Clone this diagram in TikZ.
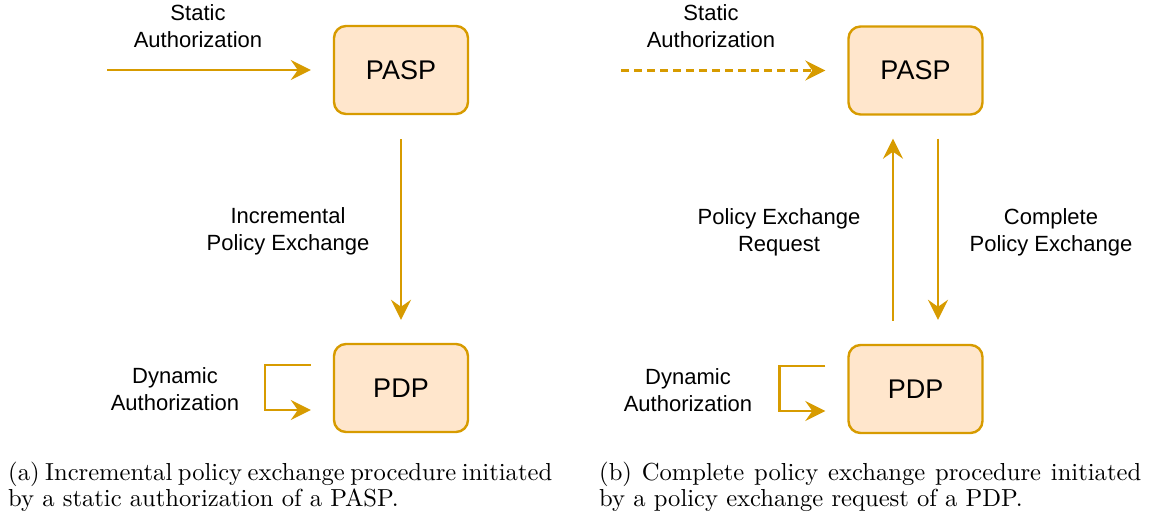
\documentclass[tikz,border=0pt]{standalone}
\usepackage{fontspec}
\newfontfamily\labfont{Liberation Sans}
\newfontfamily\capfont{lmroman10-regular.otf}
\usetikzlibrary{arrows.meta}
\definecolor{boxfill}{HTML}{FFE6CC}
\definecolor{boxline}{HTML}{D79B00}
\begin{document}
\begin{tikzpicture}[x=1pt,y=-1pt,
  procbox/.style={draw=boxline, fill=boxfill, line width=2.4pt, rounded corners=12pt,
    minimum width=134pt, minimum height=88pt, inner sep=0pt,
    font=\labfont\fontsize{27}{30}\selectfont},
  lbl/.style={align=center, inner sep=0pt, font=\labfont\fontsize{22}{27}\selectfont},
  conn/.style={draw=boxline, line width=2.6pt, -{Stealth[length=20pt, width=20pt, inset=7pt]}},
  capt/.style={anchor=north west, inner sep=0pt, text width=544pt, align=left,
    font=\capfont\fontsize{24.6}{26}\selectfont}
]
\useasboundingbox (0,0) rectangle (1150,517);

% (a)
\node[procbox] (paspA) at (401,70) {PASP};
\node[procbox] (pdpA) at (401,388) {PDP};
\coordinate (startA) at (107,70);
\draw[conn] (startA) -- ([shift={(-22,0)}]paspA.west);
\node[lbl] (statA) at (198,26) {Static\\Authorization};
\draw[conn] ([shift={(0,24)}]paspA.south) -- ([shift={(0,-23)}]pdpA.north);
\node[lbl] (incA) at (288,231) {Incremental\\Policy Exchange};
\draw[conn] ([shift={(-22,-23)}]pdpA.west) -| ([shift={(-68,22)}]pdpA.west) -- ([shift={(-22,22)}]pdpA.west);
\node[lbl] (dynA) at (175,389) {Dynamic\\Authorization};
\node[capt] (captA) at (8,462) {\noindent{\spaceskip=5pt plus 8pt minus 3pt\hbox to 544pt{(a) Incremental policy exchange procedure initiated}}\\by a static authorization of a PASP.};

% (b)
\node[procbox] (paspB) at (915.5,70.5) {PASP};
\node[procbox] (pdpB) at (915.5,389) {PDP};
\coordinate (startB) at (621,70.5);
\draw[conn, dash pattern=on 8pt off 5pt] (startB) -- ([shift={(-22,0)}]paspB.west);
\node[lbl] (statB) at (711,26.5) {Static\\Authorization};
\draw[conn] ([shift={(-22.5,-23)}]pdpB.north) -- ([shift={(-22.5,23)}]paspB.south);
\draw[conn] ([shift={(22.5,23)}]paspB.south) -- ([shift={(22.5,-24)}]pdpB.north);
\node[lbl] (reqB) at (779,232) {Policy Exchange\\Request};
\node[lbl] (compB) at (1051,232) {Complete\\Policy Exchange};
\draw[conn] ([shift={(-22,-23)}]pdpB.west) -| ([shift={(-68,22)}]pdpB.west) -- ([shift={(-22,22)}]pdpB.west);
\node[lbl] (dynB) at (688,390) {Dynamic\\Authorization};
\node[capt] (captB) at (599,462) {\noindent{\spaceskip=8pt plus 8pt minus 3pt\hbox to 542pt{(b) Complete policy exchange procedure initiated}}\\by a policy exchange request of a PDP.};
\end{tikzpicture}
\end{document}
